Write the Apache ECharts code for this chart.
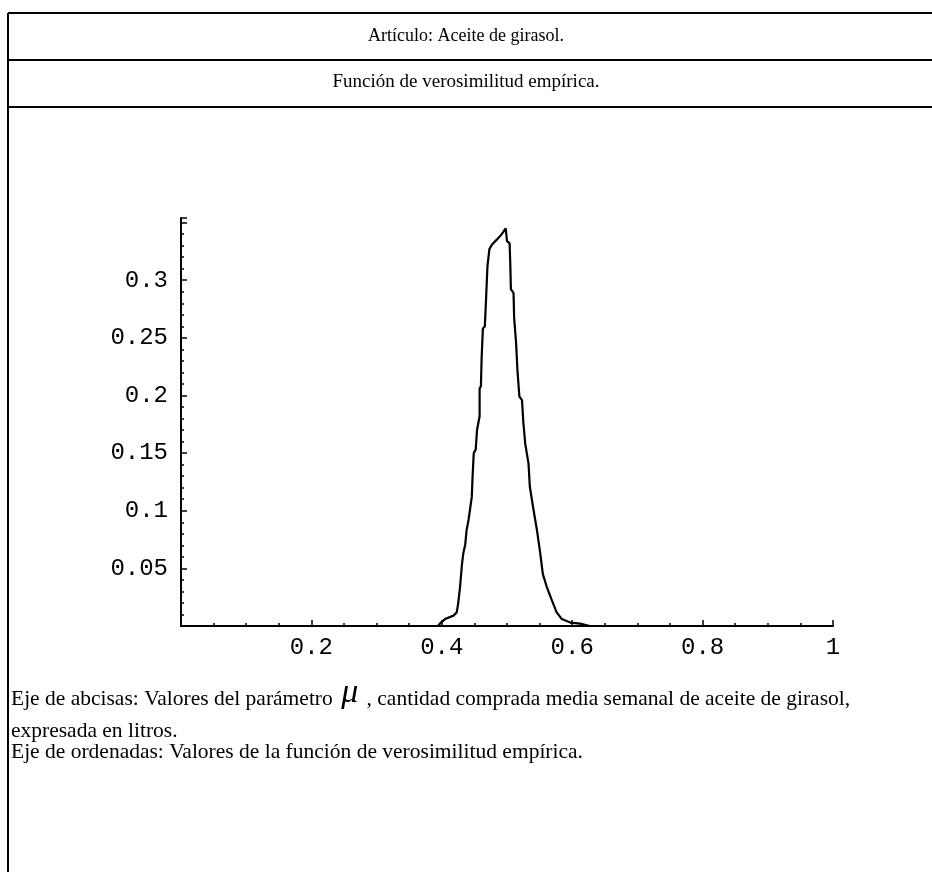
<!DOCTYPE html>
<html>
<head>
<meta charset="utf-8">
<script src="https://cdn.jsdelivr.net/npm/echarts@6/dist/echarts.min.js"></script>
<style>
  html, body { margin: 0; padding: 0; background: #ffffff; }
  #chart { width: 932px; height: 872px; }
</style>
</head>
<body>
<div id="chart"></div>
<script>
// Empirical likelihood of the weekly mean purchase (litres) of sunflower oil
const muValues = [
  0.000, 0.394, 0.397, 0.405, 0.418, 0.423, 0.425, 0.428, 0.431, 0.433,
  0.436, 0.438, 0.441, 0.443, 0.446, 0.447, 0.449, 0.452, 0.454, 0.458,
  0.458, 0.460, 0.461, 0.463, 0.466, 0.468, 0.470, 0.473, 0.477, 0.484,
  0.492, 0.498, 0.500, 0.504, 0.505, 0.506, 0.510, 0.511, 0.514, 0.516,
  0.519, 0.523, 0.525, 0.528, 0.533, 0.535, 0.540, 0.546, 0.551, 0.555,
  0.561, 0.569, 0.576, 0.584, 0.597, 0.612, 0.627, 1.000
];
const likelihood = [
  0.000, 0.000, 0.002, 0.006, 0.009, 0.012, 0.019, 0.034, 0.054, 0.063,
  0.071, 0.083, 0.092, 0.100, 0.112, 0.127, 0.150, 0.153, 0.170, 0.182,
  0.206, 0.208, 0.231, 0.258, 0.260, 0.285, 0.312, 0.327, 0.331, 0.335,
  0.340, 0.345, 0.334, 0.332, 0.315, 0.292, 0.289, 0.267, 0.245, 0.222,
  0.199, 0.196, 0.177, 0.158, 0.141, 0.121, 0.103, 0.083, 0.063, 0.045,
  0.034, 0.022, 0.012, 0.006, 0.003, 0.002, 0.000, 0.000
];

const headerTitle = 'Artículo: Aceite de girasol.';
const headerSubtitle = 'Función de verosimilitud empírica.';
const noteAbscissa = ['Eje de abcisas: Valores del parámetro ', 'μ', ' , cantidad comprada media semanal de aceite de girasol,'];
const noteAbscissa2 = 'expresada en litros.';
const noteOrdinate = 'Eje de ordenadas: Valores de la función de verosimilitud empírica.';

const serif = '"Liberation Serif", "Times New Roman", serif';
const mono = '"Liberation Mono", "Courier New", monospace';

const chart = echarts.init(document.getElementById('chart'), null, { renderer: 'canvas' });

const points = muValues.map((m, i) => [m, likelihood[i]]);

function hLine(y) {
  return { type: 'line', shape: { x1: 8, y1: y, x2: 932, y2: y }, style: { stroke: '#000', lineWidth: 2 }, silent: true };
}

chart.setOption({
  animation: false,
  backgroundColor: '#ffffff',
  grid: { left: 181, right: 99, top: 218, bottom: 246, containLabel: false },
  xAxis: {
    type: 'value',
    min: 0,
    max: 1,
    interval: 0.2,
    axisLine: { show: true, onZero: true, lineStyle: { color: '#000', width: 2 } },
    axisTick: { show: true, inside: true, length: 6, lineStyle: { color: '#000', width: 1.5 } },
    minorTick: { show: true, splitNumber: 4, length: 3, lineStyle: { color: '#000', width: 1.5 } },
    splitLine: { show: false },
    axisLabel: {
      margin: 10,
      color: '#000',
      fontFamily: mono,
      fontSize: 24,
      formatter: v => (v === 0 ? '' : String(+v.toFixed(2)))
    }
  },
  yAxis: {
    type: 'value',
    min: 0,
    max: 0.354,
    interval: 0.05,
    axisLine: { show: true, lineStyle: { color: '#000', width: 2 } },
    axisTick: { show: true, inside: true, length: 6, lineStyle: { color: '#000', width: 1.5 } },
    minorTick: { show: true, splitNumber: 5, length: 3, lineStyle: { color: '#000', width: 1.5 } },
    splitLine: { show: false },
    axisLabel: {
      margin: 13,
      color: '#000',
      fontFamily: mono,
      fontSize: 24,
      formatter: v => (v === 0 || v > 0.32 ? '' : String(+v.toFixed(2)))
    }
  },
  series: [{
    type: 'line',
    data: points,
    showSymbol: false,
    symbol: 'none',
    lineStyle: { color: '#000', width: 2.2 },
    z: 3
  }],
  graphic: [
    // frame
    hLine(13), hLine(60), hLine(107),
    { type: 'line', shape: { x1: 8, y1: 13, x2: 8, y2: 872 }, style: { stroke: '#000', lineWidth: 2 }, silent: true },
    // headers
    { type: 'text', left: 'center', top: 27, style: { text: headerTitle, font: '18px ' + serif, fill: '#000' } },
    { type: 'text', left: 'center', top: 73, style: { text: headerSubtitle, font: '19px ' + serif, fill: '#000' } },
    // axis notes
    {
      type: 'text', left: 11, top: 676,
      style: {
        text: '{a|' + noteAbscissa[0] + '}{m|' + noteAbscissa[1] + '}{a|' + noteAbscissa[2] + '}',
        rich: {
          a: { fontFamily: serif, fontSize: 21.5, fill: '#000', color: '#000', verticalAlign: 'bottom' },
          m: { fontFamily: serif, fontSize: 34, fontStyle: 'italic', fill: '#000', color: '#000', verticalAlign: 'bottom', padding: [0, 3, 0, 3] }
        }
      }
    },
    { type: 'text', left: 11, top: 720, style: { text: noteAbscissa2, font: '21.5px ' + serif, fill: '#000' } },
    { type: 'text', left: 11, top: 741, style: { text: noteOrdinate, font: '21.5px ' + serif, fill: '#000' } }
  ]
});
</script>
</body>
</html>
